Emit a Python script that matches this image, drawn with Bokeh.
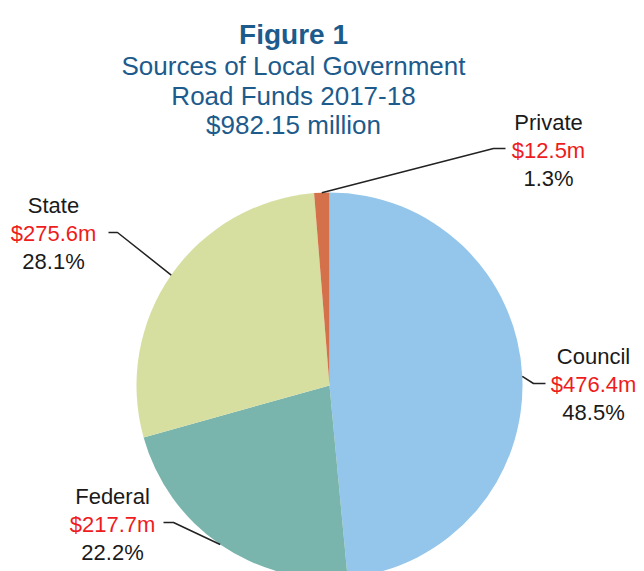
import numpy as np
from bokeh.plotting import figure
from bokeh.models import Range1d
from bokeh.embed import file_html
from bokeh.resources import INLINE
from bokeh.core.properties import value

# ---- data ----
categories = ["Council", "Federal", "State", "Private"]
amounts = [476.4, 217.7, 275.6, 12.5]          # $ million
percents = [48.5, 22.2, 28.1, 1.3]
slice_colors = ["#94c5ea", "#79b5ac", "#d6dea0", "#d4714a"]
title_lines = ["Sources of Local Government", "Road Funds 2017-18", "$982.15 million"]
figure_label = "Figure 1"

# ---- layout (screen pixel positions in the picture) ----
W, H = 644, 571
def Y(sy):
    return H - sy

CX, CY, R = 329, 385, 193
FONT = value("Liberation Sans")
BLUE = "#1d5b8c"
RED = "#ee1c1c"
DARK = "#1a1a1a"

# text centre x, first baseline y, elbow point, leader end near text
label_layout = {
    "Council": dict(tx=593, ty=356, elbow=(533, 383), end=(545, 383)),
    "Federal": dict(tx=112, ty=496, elbow=(173, 522), end=(163, 522)),
    "State":   dict(tx=53,  ty=205, elbow=(117, 232), end=(108, 232)),
    "Private": dict(tx=548, ty=122, elbow=(493, 148), end=(505, 148)),
}

p = figure(width=W, height=H, x_range=Range1d(0, W), y_range=Range1d(0, H),
           output_backend="svg", toolbar_location=None, min_border=0,
           x_axis_type=None, y_axis_type=None)
p.grid.visible = False
p.outline_line_color = None
p.background_fill_color = "white"

# ---- pie ----
total = sum(amounts)
frac = np.array(amounts) / total
cum = np.concatenate([[0.0], np.cumsum(frac)])
start = np.pi / 2 - cum[:-1] * 2 * np.pi
end = np.pi / 2 - cum[1:] * 2 * np.pi
p.wedge(x=CX, y=Y(CY), radius=R, start_angle=list(start), end_angle=list(end),
        direction="clock", fill_color=slice_colors, line_color=None)

# ---- leader lines and labels ----
mid = (cum[:-1] + cum[1:]) / 2 * 2 * np.pi  # clockwise from top
xs, ys = [], []
name_x, name_y, amt_y, pct_y, names, amts, pcts = [], [], [], [], [], [], []
for i, c in enumerate(categories):
    L = label_layout[c]
    px = CX + R * np.sin(mid[i])
    py = CY - R * np.cos(mid[i])
    xs.append([px, L["elbow"][0], L["end"][0]])
    ys.append([Y(py), Y(L["elbow"][1]), Y(L["end"][1])])
    name_x.append(L["tx"])
    name_y.append(Y(L["ty"]))
    amt_y.append(Y(L["ty"] + 28))
    pct_y.append(Y(L["ty"] + 56))
    names.append(c)
    amts.append(f"${amounts[i]}m")
    pcts.append(f"{percents[i]}%")

p.multi_line(xs=xs, ys=ys, line_color="#222222", line_width=1.5)

common = dict(text_font=FONT, text_font_size="22px", text_align="center",
              text_baseline="alphabetic")
p.text(x=name_x, y=name_y, text=names, text_color=DARK, **common)
p.text(x=name_x, y=amt_y, text=amts, text_color=RED, **common)
p.text(x=name_x, y=pct_y, text=pcts, text_color=DARK, **common)

# ---- titles ----
p.text(x=[293], y=[Y(34)], text=[figure_label], text_font=FONT, text_font_size="28px",
       text_font_style="bold", text_align="center", text_baseline="alphabetic",
       text_color=BLUE)
p.text(x=[293, 293, 293], y=[Y(65), Y(95), Y(124)], text=title_lines, text_font=FONT,
       text_font_size="26px", text_align="center", text_baseline="alphabetic",
       text_color=BLUE)

open("out.html", "w").write(file_html(p, INLINE))
